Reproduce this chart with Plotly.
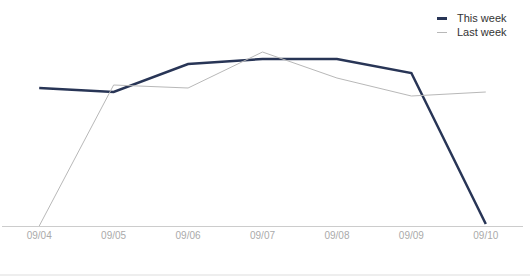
import plotly.graph_objects as go

categories = ["09/04", "09/05", "09/06", "09/07", "09/08", "09/09", "09/10"]
this_week = [138, 134, 162, 167, 167, 153, 2]
last_week = [0, 141, 138, 174, 148, 130, 134]
series_names = ["This week", "Last week"]
series_colors = ["#283556", "#b8b8b8"]
series_widths = [2.5, 1]

fig = go.Figure()
for name, vals, col, w in zip(series_names, [this_week, last_week], series_colors, series_widths):
    fig.add_trace(go.Scatter(
        x=categories, y=vals, name=name, mode="lines",
        line=dict(color=col, width=w), showlegend=False,
    ))

# manual legend (short symbols like the reference)
PL, PW, PT, PH = 2, 521, 26, 200
def px_x(p):
    return (p - PL) / PW
def px_y(p):
    return (PT + PH - p) / PH

shapes = []
annotations = []
legend_rows = [18.5, 32.5]
sym_widths = [3, 1]
for name, col, sw, yy in zip(series_names, series_colors, sym_widths, legend_rows):
    shapes.append(dict(type="line", xref="paper", yref="paper",
                       x0=px_x(437), x1=px_x(447), y0=px_y(yy), y1=px_y(yy),
                       line=dict(color=col, width=sw)))
    annotations.append(dict(text=name, xref="paper", yref="paper",
                            x=px_x(455), y=px_y(yy), xanchor="left", yanchor="middle",
                            showarrow=False, font=dict(size=11, color="#333333")))

shapes.append(dict(
    type="line", xref="paper", yref="paper",
    x0=-0.01, x1=1.02, y0=px_y(275), y1=px_y(275),
    line=dict(color="#dddddd", width=1),
))

fig.update_layout(
    width=530, height=276,
    margin=dict(l=PL, r=530 - PL - PW, t=PT, b=276 - PT - PH),
    paper_bgcolor="white", plot_bgcolor="white",
    font=dict(family="Liberation Sans, Arial, sans-serif", color="#333"),
    showlegend=False,
    xaxis=dict(
        type="category", range=[-0.5, 6.5],
        showline=True, linecolor="#cccccc", linewidth=1,
        showgrid=False, zeroline=False, ticks="",
        tickfont=dict(size=10, color="#aaaaaa"),
    ),
    yaxis=dict(
        range=[0, 200], showgrid=False, zeroline=False,
        showticklabels=False, showline=False, ticks="",
    ),
    shapes=shapes,
    annotations=annotations,
)

fig.write_html("out.html")
